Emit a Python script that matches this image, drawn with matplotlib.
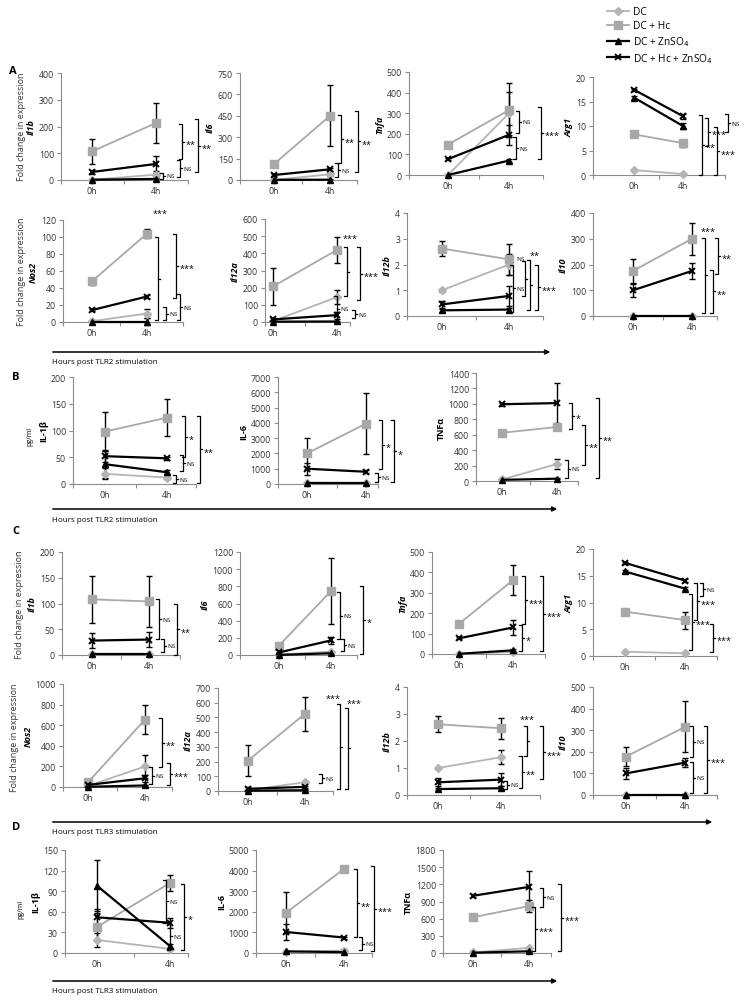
import numpy as np
import matplotlib
matplotlib.use('Agg')
import matplotlib.pyplot as plt
import matplotlib.transforms as mtransforms
from matplotlib.patches import FancyArrowPatch
from matplotlib.lines import Line2D
from matplotlib.ticker import FuncFormatter

plt.rcParams['font.family'] = ['Open Sans', 'DejaVu Sans']

W, H = 749, 1004

series_names = ['DC', 'DC + Hc', 'DC + ZnSO$_4$', 'DC + Hc + ZnSO$_4$']
time_labels = ['0h', '4h']

# each mean/err list: [DC, DC+Hc, DC+ZnSO4, DC+Hc+ZnSO4], each [0h, 4h]
# sig lists: (low, high, label) of the comparison brackets

# ---- A: TLR2, qPCR
a_il1b_mean = [[1, 20], [107, 213], [1, 4], [30, 60]]
a_il1b_err = [[1, 8], [47, 75], [1, 2], [8, 28]]
a_il1b_sig = [(2, 28, 'NS'), (12, 75, 'NS'), (78, 209, '**'), (29, 228, '**')]

a_il6_mean = [[1, 40], [112, 450], [1, 2], [35, 75]]
a_il6_err = [[1, 15], [20, 213], [1, 2], [8, 12]]
a_il6_sig = [(23, 117, 'NS'), (117, 455, '**'), (54, 486, '**')]

a_tnfa_mean = [[0, 300], [148, 315], [0, 70], [77, 195]]
a_tnfa_err = [[0, 105], [5, 130], [0, 8], [5, 50]]
a_tnfa_sig = [(206, 311, 'NS'), (76, 186, 'NS'), (76, 332, '***')]

a_arg1_mean = [[1, 0.2], [8.3, 6.5], [15.8, 10], [17.4, 12]]
a_arg1_err = [[0.1, 0.1], [0.2, 0.7], [0.3, 0.6], [0.2, 0.5]]
a_arg1_sig = [(0, 12.2, '**'), (6, 11.6, '***'), (0, 9.7, '***'), (8.7, 12.5, 'NS')]

a_nos2_mean = [[1, 10], [48, 104], [0.5, 0.5], [14, 30]]
a_nos2_err = [[0.5, 5], [4, 5], [0.5, 4], [1, 1.5]]
a_nos2_sig = [(2, 100, '***'), (2, 17.5, 'NS'), (28, 104, '***'), (2, 33, 'NS')]

a_il12a_mean = [[5, 145], [207, 420], [2, 3], [15, 40]]
a_il12a_err = [[3, 40], [108, 78], [1, 2], [8, 20]]
a_il12a_sig = [(0, 152, 'NS'), (152, 435, '***'), (25, 68, 'NS'), (127, 435, '***')]

a_il12b_mean = [[1.0, 2.0], [2.62, 2.2], [0.22, 0.25], [0.45, 0.78]]
a_il12b_err = [[0.05, 0.4], [0.3, 0.6], [0.05, 0.08], [0.15, 0.4]]
a_il12b_sig = [(0.15, 2.0, 'NS'), (0.76, 2.14, 'NS'), (0.22, 2.16, '**'), (0.22, 2.0, '***')]

a_il10_mean = [[0, 0], [175, 300], [1, 1], [100, 175]]
a_il10_err = [[0, 0], [45, 63], [1, 1], [25, 30]]
a_il10_sig = [(12, 303, '***'), (12, 180, '**'), (164, 303, '**')]

# ---- B: TLR2, protein
b_il1b_mean = [[19, 12], [98, 124], [37, 22], [52, 48]]
b_il1b_err = [[10, 3], [37, 35], [26, 4], [10, 3]]
b_il1b_sig = [(2, 16, 'NS'), (24, 54, 'NS'), (50, 127, '*'), (2, 127, '**')]

b_il6_mean = [[80, 60], [2000, 3950], [50, 50], [1000, 800]]
b_il6_err = [[30, 20], [1000, 2000], [20, 20], [400, 100]]
b_il6_sig = [(130, 740, 'NS'), (1000, 4165, '*'), (130, 4165, '*')]

b_tnf_mean = [[20, 220], [625, 700], [15, 30], [995, 1010]]
b_tnf_err = [[10, 60], [20, 40], [10, 10], [20, 260]]
b_tnf_sig = [(43, 274, 'NS'), (674, 1013, '*'), (204, 726, '**'), (43, 1074, '**')]

# ---- C: TLR3, qPCR
c_il1b_mean = [[1, 1], [108, 104], [1, 1], [28, 30]]
c_il1b_err = [[0.5, 0.5], [46, 49], [0.5, 0.5], [15, 14]]
c_il1b_sig = [(31, 108, 'NS'), (5, 31, 'NS'), (0, 100, '**')]

c_il6_mean = [[5, 40], [110, 745], [1, 20], [30, 170]]
c_il6_err = [[3, 10], [10, 380], [1, 10], [10, 45]]
c_il6_sig = [(183, 737, 'NS'), (47, 183, 'NS'), (8, 808, '*')]

c_tnfa_mean = [[0, 10], [148, 362], [1, 18], [77, 130]]
c_tnfa_err = [[0, 3], [5, 75], [1, 5], [5, 35]]
c_tnfa_sig = [(16, 142, '*'), (145, 380, '***'), (13, 380, '***')]

c_arg1_mean = [[0.8, 0.5], [8.3, 6.7], [15.8, 12.6], [17.4, 14.1]]
c_arg1_err = [[0.1, 0.1], [0.2, 1.6], [0.3, 0.3], [0.2, 0.3]]
c_arg1_sig = [(1.2, 11.5, '***'), (6.7, 13.7, '***'), (11.2, 13.7, 'NS'), (0.7, 6.0, '***')]

c_nos2_mean = [[10, 200], [45, 655], [2, 15], [20, 85]]
c_nos2_err = [[5, 115], [10, 145], [1, 5], [5, 35]]
c_nos2_sig = [(26, 195, 'NS'), (195, 669, '**'), (16, 237, '***')]

c_il12a_mean = [[5, 60], [207, 525], [2, 5], [15, 28]]
c_il12a_err = [[3, 8], [108, 115], [1, 2], [10, 8]]
c_il12a_sig = [(57, 114, 'NS'), (11, 593, '***'), (16, 563, '***')]

c_il12b_mean = [[1.0, 1.4], [2.62, 2.47], [0.22, 0.25], [0.47, 0.57]]
c_il12b_err = [[0.03, 0.25], [0.3, 0.38], [0.05, 0.08], [0.15, 0.25]]
c_il12b_sig = [(0.24, 0.52, 'NS'), (0.27, 1.43, '**'), (1.43, 2.55, '***'), (0.61, 2.55, '***')]

c_il10_mean = [[0, 0], [178, 315], [0, 0], [100, 150]]
c_il10_err = [[0, 0], [42, 118], [0, 0], [25, 22]]
c_il10_sig = [(174, 318, 'NS'), (8, 151, 'NS'), (8, 318, '***')]

# ---- D: TLR3, protein
d_il1b_mean = [[19, 6], [38, 102], [98, 10], [52, 44]]
d_il1b_err = [[10, 2], [20, 12], [37, 3], [12, 7]]
d_il1b_sig = [(44, 107, 'NS'), (5, 44, 'NS'), (5, 100, '*')]

d_il6_mean = [[60, 120], [1950, 4080], [80, 40], [1020, 750]]
d_il6_err = [[30, 80], [1000, 50], [30, 20], [400, 50]]
d_il6_sig = [(780, 4060, '**'), (130, 780, 'NS'), (80, 4220, '***')]

d_tnf_mean = [[10, 90], [625, 820], [5, 30], [1000, 1155]]
d_tnf_err = [[5, 20], [30, 100], [5, 10], [30, 280]]
d_tnf_sig = [(29, 807, '***'), (807, 1140, 'NS'), (29, 1199, '***')]

# layout in pixels: box = (left, right, y of top tick, y of zero), cats = x of 0h / 4h
# sig_x = bracket x, sig_top = None (label beside) or (lift, shift) px for label above bracket
layout = {
    'a_il1b': dict(box=(61, 188, 74, 181), cats=(92, 156), ymax=400, step=100, ylabel='Il1b',
                   sig_x=[163, 180, 182, 198], sig_top=[None] * 4),
    'a_il6': dict(box=(240, 357, 74, 181), cats=(274, 330), ymax=750, step=150, ylabel='Il6',
                  sig_x=[338, 341, 358], sig_top=[None] * 3),
    'a_tnfa': dict(box=(409, 543, 73, 176), cats=(448, 509), ymax=500, step=100, ylabel='Tnfa',
                   sig_x=[519, 516, 541], sig_top=[None] * 3),
    'a_arg1': dict(box=(593, 725, 78, 176), cats=(634, 683), ymax=20, step=5, ylabel='Arg1',
                   sig_x=[702, 708, 717, 728], sig_top=[None] * 4),
    'a_nos2': dict(box=(63, 183, 221, 323), cats=(92, 147), ymax=120, step=20, ylabel='Nos2',
                   sig_x=[158, 166, 176, 180], sig_top=[(22, 2), None, None, None]),
    'a_il12a': dict(box=(265, 350, 220, 323), cats=(273, 337), ymax=600, step=100, ylabel='Il12a',
                    sig_x=[337, 347, 355, 360], sig_top=[None, (7, 3), None, None]),
    'a_il12b': dict(box=(407, 543, 214, 317), cats=(442, 509), ymax=4, step=1, ylabel='Il12b',
                    sig_x=[513, 525, 530, 538], sig_top=[None, (0, -4), (3, 5), None]),
    'a_il10': dict(box=(593, 717, 214, 317), cats=(633, 692), ymax=400, step=100, ylabel='Il10',
                   sig_x=[705, 713, 718], sig_top=[(5, 3), None, None]),
    'b_il1b': dict(box=(73, 196, 378, 485), cats=(105, 167), ymax=200, step=50, ylabel='IL-1β',
                   sig_x=[176, 183, 185, 200], sig_top=[None] * 4),
    'b_il6': dict(box=(278, 378, 378, 485), cats=(307, 366), ymax=7000, step=1000, ylabel='IL-6',
                  sig_x=[378, 382, 394], sig_top=[None] * 3),
    'b_tnf': dict(box=(476, 578, 374, 482), cats=(502, 557), ymax=1400, step=200, ylabel='TNFα',
                  sig_x=[568, 572, 585, 599], sig_top=[None] * 4),
    'c_il1b': dict(box=(62, 180, 553, 656), cats=(92, 149), ymax=200, step=50, ylabel='Il1b',
                   sig_x=[159, 164, 177], sig_top=[None] * 3),
    'c_il6': dict(box=(240, 357, 553, 656), cats=(279, 331), ymax=1200, step=200, ylabel='Il6',
                  sig_x=[340, 344, 363], sig_top=[None] * 3),
    'c_tnfa': dict(box=(432, 545, 553, 655), cats=(459, 513), ymax=500, step=100, ylabel='Tnfa',
                   sig_x=[522, 525, 543], sig_top=[None] * 3),
    'c_arg1': dict(box=(593, 717, 550, 657), cats=(625, 685), ymax=20, step=5, ylabel='Arg1',
                   sig_x=[692, 697, 703, 713], sig_top=[None] * 4),
    'c_nos2': dict(box=(63, 172, 685, 788), cats=(88, 145), ymax=1000, step=200, ylabel='Nos2',
                   sig_x=[152, 162, 170], sig_top=[None] * 3),
    'c_il12a': dict(box=(218, 333, 689, 792), cats=(248, 305), ymax=700, step=100, ylabel='Il12a',
                    sig_x=[322, 340, 348], sig_top=[None, (4, -7), (3, 6)]),
    'c_il12b': dict(box=(407, 540, 688, 796), cats=(438, 501), ymax=4, step=1, ylabel='Il12b',
                    sig_x=[507, 522, 527, 543], sig_top=[None, None, (5, 0), None]),
    'c_il10': dict(box=(593, 717, 688, 796), cats=(626, 685), ymax=500, step=100, ylabel='Il10',
                   sig_x=[693, 693, 707], sig_top=[None] * 3),
    'd_il1b': dict(box=(65, 188, 851, 954), cats=(97, 170), ymax=150, step=30, ylabel='IL-1β',
                   sig_x=[166, 170, 184], sig_top=[None] * 3),
    'd_il6': dict(box=(256, 372, 851, 954), cats=(286, 344), ymax=5000, step=1000, ylabel='IL-6',
                  sig_x=[357, 362, 374], sig_top=[None] * 3),
    'd_tnf': dict(box=(443, 551, 851, 954), cats=(473, 529), ymax=1800, step=300, ylabel='TNFα',
                  sig_x=[535, 543, 561], sig_top=[None] * 3),
}

plots = [
    ('a_il1b', a_il1b_mean, a_il1b_err, a_il1b_sig),
    ('a_il6', a_il6_mean, a_il6_err, a_il6_sig),
    ('a_tnfa', a_tnfa_mean, a_tnfa_err, a_tnfa_sig),
    ('a_arg1', a_arg1_mean, a_arg1_err, a_arg1_sig),
    ('a_nos2', a_nos2_mean, a_nos2_err, a_nos2_sig),
    ('a_il12a', a_il12a_mean, a_il12a_err, a_il12a_sig),
    ('a_il12b', a_il12b_mean, a_il12b_err, a_il12b_sig),
    ('a_il10', a_il10_mean, a_il10_err, a_il10_sig),
    ('b_il1b', b_il1b_mean, b_il1b_err, b_il1b_sig),
    ('b_il6', b_il6_mean, b_il6_err, b_il6_sig),
    ('b_tnf', b_tnf_mean, b_tnf_err, b_tnf_sig),
    ('c_il1b', c_il1b_mean, c_il1b_err, c_il1b_sig),
    ('c_il6', c_il6_mean, c_il6_err, c_il6_sig),
    ('c_tnfa', c_tnfa_mean, c_tnfa_err, c_tnfa_sig),
    ('c_arg1', c_arg1_mean, c_arg1_err, c_arg1_sig),
    ('c_nos2', c_nos2_mean, c_nos2_err, c_nos2_sig),
    ('c_il12a', c_il12a_mean, c_il12a_err, c_il12a_sig),
    ('c_il12b', c_il12b_mean, c_il12b_err, c_il12b_sig),
    ('c_il10', c_il10_mean, c_il10_err, c_il10_sig),
    ('d_il1b', d_il1b_mean, d_il1b_err, d_il1b_sig),
    ('d_il6', d_il6_mean, d_il6_err, d_il6_sig),
    ('d_tnf', d_tnf_mean, d_tnf_err, d_tnf_sig),
]

styles = [
    dict(color='#b4b4b4', marker='D', ms=4.2, lw=1.3),
    dict(color='#a8a8a8', marker='s', ms=5.5, lw=1.3),
    dict(color='black', marker='^', ms=5, lw=1.6),
    dict(color='black', marker='x', ms=5, mew=1.4, lw=1.6),
]
axis_grey = '#8c8c8c'
text_grey = '#333333'

fig = plt.figure(figsize=(W / 100, H / 100), dpi=100)


def px_box(left, right, top, bottom):
    return [left / W, 1 - bottom / H, (right - left) / W, (bottom - top) / H]


def draw_sig(ax, sig, xs, tops):
    tr = mtransforms.blended_transform_factory(fig.transFigure, ax.transData)
    for (lo, hi, lab), xpx, tp in zip(sig, xs, tops):
        x = xpx / W
        d = 3 / W
        ax.plot([x - d, x, x, x - d], [lo, lo, hi, hi], color='black', lw=0.9,
                transform=tr, clip_on=False, zorder=5)
        mid = (lo + hi) / 2
        ax.plot([x, x + 2 / W], [mid, mid], color='black', lw=0.9,
                transform=tr, clip_on=False, zorder=5)
        fs = 4.6 if lab == 'NS' else 6.5
        dy = -2 if '*' in lab else 0
        if tp is None:
            ax.annotate(lab, (x + 2 / W, mid), xycoords=tr, xytext=(1, dy),
                        textcoords='offset points', fontsize=fs, ha='left', va='center',
                        annotation_clip=False)
        else:
            lift, shift = tp
            ax.annotate(lab, (x, hi), xycoords=tr, xytext=(shift * 0.72, lift * 0.72 + dy),
                        textcoords='offset points', fontsize=fs, ha='center', va='bottom',
                        annotation_clip=False)


for key, mean, err, sig in plots:
    lay = layout[key]
    left, right, top, bottom = lay['box']
    x0, x4 = lay['cats']
    ax = fig.add_axes(px_box(left, right, top, bottom))
    unit = x4 - x0
    lo_x = -(x0 - left) / unit
    hi_x = 1 + (right - x4) / unit
    ax.set_xlim(lo_x, hi_x)
    ax.set_ylim(0, lay['ymax'])
    ax.set_yticks(np.arange(0, lay['ymax'] + lay['step'] / 2, lay['step']))
    ax.yaxis.set_major_formatter(FuncFormatter(lambda v, p: f'{v:g}'))
    ax.set_xticks([0, 1])
    ax.set_xticklabels(time_labels)
    ax.set_xticks([lo_x, 0.5, hi_x], minor=True)
    ax.tick_params(axis='x', which='major', length=0, pad=4, labelsize=6.3, labelcolor=text_grey)
    ax.tick_params(axis='x', which='minor', length=3, color=axis_grey, width=0.8)
    ax.tick_params(axis='y', length=3, color=axis_grey, width=0.8, pad=2,
                   labelsize=6.3, labelcolor=text_grey)
    for s in ['top', 'right']:
        ax.spines[s].set_visible(False)
    for s in ['left', 'bottom']:
        ax.spines[s].set_color(axis_grey)
        ax.spines[s].set_linewidth(0.8)
    protein = key.startswith('b_') or key.startswith('d_')
    ax.set_ylabel(lay['ylabel'], fontsize=6.5, fontweight='bold',
                  fontstyle='normal' if protein else 'italic', labelpad=2)
    ax.patch.set_alpha(0)

    for i in range(4):
        eb = ax.errorbar([0, 1], mean[i], yerr=err[i], fmt='none', ecolor='black',
                         elinewidth=1, capsize=2, capthick=1, zorder=2)
        for art in eb.get_children():
            art.set_clip_on(False)
        ax.plot([0, 1], mean[i], zorder=3, clip_on=False, **styles[i])

    draw_sig(ax, sig, lay['sig_x'], lay['sig_top'])

# y axis side notes
for xc, yc in [(22, 127), (22, 272), (20, 605), (15, 738)]:
    fig.text(xc / W, 1 - yc / H, 'Fold change in expression', rotation=90, fontsize=6.5,
             color=text_grey, ha='center', va='center')
fig.text(30 / W, 1 - 437 / H, 'pg/ml', rotation=90, fontsize=5, ha='center', va='center')
fig.text(21 / W, 1 - 910 / H, 'pg/ml', rotation=90, fontsize=5, ha='center', va='center')

# panel letters
for lab, xp, yp in [('A', 9, 71), ('B', 12, 377), ('C', 12, 532), ('D', 12, 827)]:
    fig.text(xp / W, 1 - yp / H, lab, fontsize=8, fontweight='bold', ha='left', va='center')

# time arrows
arrows = [(353, 553, 'Hours post TLR2 stimulation'),
          (510, 560, 'Hours post TLR2 stimulation'),
          (823, 715, 'Hours post TLR3 stimulation'),
          (982, 560, 'Hours post TLR3 stimulation')]
for yp, xend, lab in arrows:
    fig.add_artist(FancyArrowPatch((50 / W, 1 - yp / H), (xend / W, 1 - yp / H),
                                   transform=fig.transFigure, arrowstyle='-|>',
                                   mutation_scale=7, lw=1.1, color='black'))
    fig.text(52 / W, 1 - (yp + 10) / H, lab, fontsize=5.8, ha='left', va='center')

handles = [Line2D([], [], **st) for st in styles]
fig.legend(handles, series_names, loc='upper left', bbox_to_anchor=(603 / W, 1 - 3 / H),
           frameon=False, fontsize=7.3, handlelength=2.2, labelspacing=0.3,
           handletextpad=0.4, borderaxespad=0)

fig.savefig('out.png', dpi=100)
